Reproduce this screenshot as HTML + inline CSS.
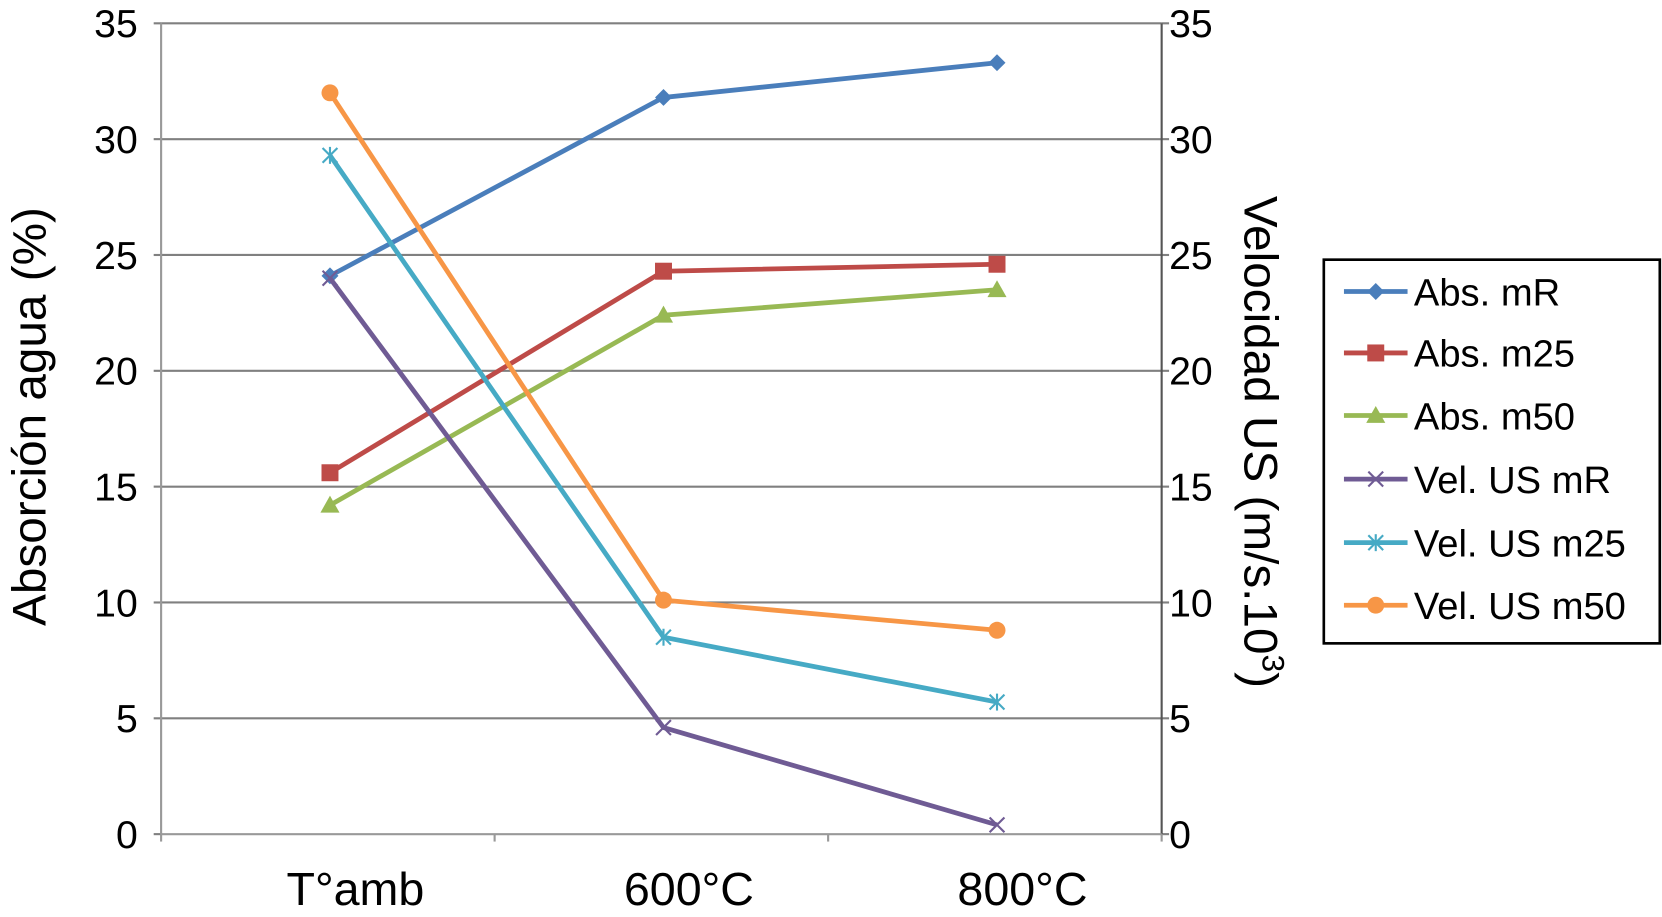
<!DOCTYPE html>
<html><head><meta charset="utf-8"><style>
html,body{margin:0;padding:0;background:#fff;}
svg{display:block;font-family:"Liberation Sans",sans-serif;}
</style></head><body>
<svg id="chart" width="1662" height="917" viewBox="0 0 1662 917" xmlns="http://www.w3.org/2000/svg">
<g transform="scale(1.0599)">
<g id="grid"></g>
<g id="axes"></g>
<g id="series"></g>
<text transform="translate(43,393) rotate(-90)" text-anchor="middle" font-size="45" fill="#000">Absorción agua (%)</text>
<text transform="translate(1174,417) rotate(90)" text-anchor="middle" font-size="45" fill="#000">Velocidad US (m/s.10<tspan font-size="30" dy="-17">3</tspan><tspan dy="17">)</tspan></text>
<g>
<rect x="1249" y="245" width="317" height="362" fill="#fff" stroke="#000" stroke-width="2.5"/>
<g id="legend-items"></g>
</g>
</g>
</svg>
<script>
const categories = ["T°amb", "600°C", "800°C"];
const yTicks = [0, 5, 10, 15, 20, 25, 30, 35];
const seriesNames = ["Abs. mR", "Abs. m25", "Abs. m50", "Vel. US mR", "Vel. US m25", "Vel. US m50"];
const absMR = [24.1, 31.8, 33.3];
const absM25 = [15.6, 24.3, 24.6];
const absM50 = [14.2, 22.4, 23.5];
const velMR = [24.0, 4.6, 0.4];
const velM25 = [29.3, 8.5, 5.7];
const velM50 = [32.0, 10.1, 8.8];

const seriesData = [absMR, absM25, absM50, velMR, velM25, velM50];
const colors = ["#4a7ebb", "#be4b48", "#98b954", "#6f5b94", "#46aac5", "#f79646"];
const markers = ["diamond", "square", "triangle", "x", "star", "circle"];
const NS = "http://www.w3.org/2000/svg";
const L = 152, R = 1096, T = 22, B = 787, yMax = 35;
const y = v => B - (v / yMax) * (B - T);
const bw = (R - L) / categories.length;
const x = i => L + bw * (i + 0.5) + 2;
function mk(tag, attrs, parent) { const e = document.createElementNS(NS, tag); for (const k in attrs) e.setAttribute(k, attrs[k]); parent.appendChild(e); return e; }
const grid = document.getElementById('grid'), axes = document.getElementById('axes'), ser = document.getElementById('series');
yTicks.forEach(t => {
  if (t > 0) { const g = mk('line', {x1: L, x2: R, y1: y(t), y2: y(t), stroke: '#808080', 'stroke-width': 2}, grid);   }
  const a = mk('text', {x: 130, y: y(t) + 13, 'text-anchor': 'end', 'font-size': 37}, axes); a.textContent = t;
   
  const b = mk('text', {x: 1103, y: y(t) + 13, 'font-size': 37}, axes); b.textContent = t;
   
  mk('line', {x1: L - 7, x2: L, y1: y(t), y2: y(t), stroke: '#808080', 'stroke-width': 2}, axes);
  mk('line', {x1: R, x2: R + 7, y1: y(t), y2: y(t), stroke: '#808080', 'stroke-width': 2}, axes);
});
mk('line', {x1: L, x2: L, y1: T, y2: B, stroke: '#999', 'stroke-width': 2}, axes);
mk('line', {x1: R, x2: R, y1: T, y2: B, stroke: '#555', 'stroke-width': 2}, axes);
mk('line', {x1: L, x2: R, y1: B, y2: B, stroke: '#999', 'stroke-width': 2}, axes);
for (let i = 0; i <= categories.length; i++) mk('line', {x1: L + bw * i, x2: L + bw * i, y1: B, y2: B + 7, stroke: '#999', 'stroke-width': 2}, axes);
categories.forEach((c, i) => {
  const t = mk('text', {x: x(i) + 24, y: 854, 'text-anchor': 'middle', 'font-size': 44}, axes); t.textContent = c;
   
});
function marker(type, cx, cy, col, parent, s) {
  s = s || 1;
  if (type === 'diamond') return mk('polygon', {points: `${cx},${cy-8*s} ${cx+8*s},${cy} ${cx},${cy+8*s} ${cx-8*s},${cy}`, fill: col}, parent);
  if (type === 'square') return mk('rect', {x: cx-8*s, y: cy-8*s, width: 16*s, height: 16*s, fill: col}, parent);
  if (type === 'triangle') return mk('polygon', {points: `${cx},${cy-9*s} ${cx+9*s},${cy+7*s} ${cx-9*s},${cy+7*s}`, fill: col}, parent);
  if (type === 'circle') return mk('circle', {cx: cx, cy: cy, r: 8*s, fill: col}, parent);
  const g = mk('g', {stroke: col, 'stroke-width': 2}, parent);
  mk('line', {x1: cx-7, y1: cy-7, x2: cx+7, y2: cy+7}, g); mk('line', {x1: cx-7, y1: cy+7, x2: cx+7, y2: cy-7}, g);
  if (type === 'star') mk('line', {x1: cx, y1: cy-8, x2: cx, y2: cy+8}, g);
  return g;
}
seriesData.forEach((d, si) => {
  const g = mk('g', {}, ser);
  
  
  const p = mk('polyline', {points: d.map((v, i) => x(i) + ',' + y(v)).join(' '), fill: 'none', stroke: colors[si], 'stroke-width': 4.5}, g);
   
  d.forEach((v, i) => { const m = marker(markers[si], x(i), y(v), colors[si], g);   });
});
const li = document.getElementById('legend-items');
const ly = [275, 333, 392, 452, 512, 571];
seriesNames.forEach((n, i) => {
  const g = mk('g', {}, li);
   
  mk('line', {x1: 1268, x2: 1328, y1: ly[i], y2: ly[i], stroke: colors[i], 'stroke-width': 4.5}, g);
  marker(markers[i], 1298, ly[i], colors[i], g);
  const t = mk('text', {x: 1334, y: ly[i] + 13, 'font-size': 36}, g); t.textContent = n;
});
</script>
</body></html>
